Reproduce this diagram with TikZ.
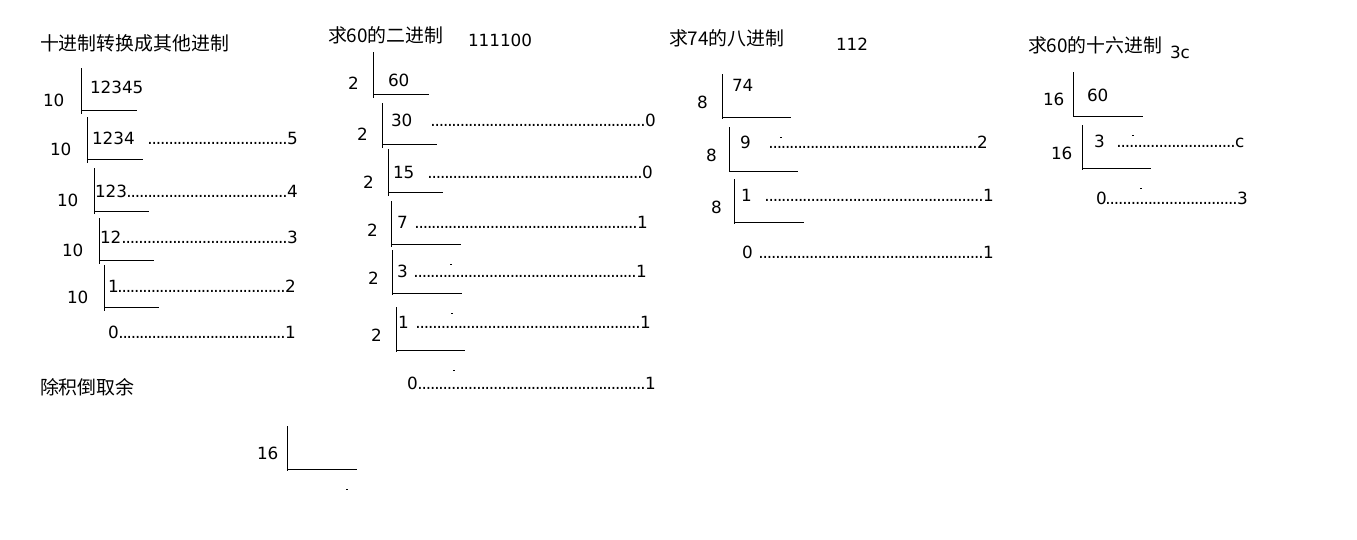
\documentclass[tikz,border=0pt]{standalone}
\usepackage{fontspec}
\setmainfont{DejaVu Sans}
\newfontfamily\cjk{Noto Sans CJK SC}
\newcommand\dotrow[1]{\hbox to #1pt{\xleaders\hbox to 4.15pt{\hss.\hss}\hfill}}
\begin{document}
\begin{tikzpicture}[x=1pt,y=-1pt,
  num/.style={anchor=base west,inner sep=0pt,outer sep=0pt,font=\fontsize{16.8}{20}\selectfont},
  ttl/.style={anchor=base west,inner sep=0pt,outer sep=0pt,font=\cjk\fontsize{18.9}{22}\selectfont},
  lead/.style={anchor=base west,inner sep=0pt,outer sep=0pt,font=\fontsize{16.8}{20}\selectfont},
  bar/.style={line width=1pt,black},
  speck/.style={fill=black}]
\useasboundingbox[fill=white] (0,0) rectangle (1357,539);

% ---------- panel 1 ----------
\node[ttl] (t1) at (40,50) {十进制转换成其他进制};
\node[num] (a1d) at (43,106) {10};
\node[num] (a1q) at (90,93) {12345};
\draw[bar] (81.7,68) -- (81.7,114) (81.7,110) -- (136.7,110);

\node[num] (a2d) at (50,155) {10};
\node[num] (a2q) at (92,144) {1234};
\node[lead] (a2l) at (148,144) {\dotrow{139}};
\node[num] (a2r) at (287,144) {5};
\draw[bar] (87.7,117) -- (87.7,163) (87.7,159) -- (143,159);

\node[num] (a3d) at (57,206) {10};
\node[num] (a3q) at (95,197) {123};
\node[lead] (a3l) at (127,197) {\dotrow{160}};
\node[num] (a3r) at (287,197) {4};
\draw[bar] (94,168) -- (94,214) (94,211) -- (149,211);

\node[num] (a4d) at (62,256) {10};
\node[num] (a4q) at (100,243) {12};
\node[lead] (a4l) at (122,243) {\dotrow{165}};
\node[num] (a4r) at (287,243) {3};
\draw[bar] (99,218) -- (99,264) (99,260) -- (154,260);

\node[num] (a5d) at (67,303) {10};
\node[num] (a5q) at (108,292) {1};
\node[lead] (a5l) at (118,292) {\dotrow{167}};
\node[num] (a5r) at (285,292) {2};
\draw[bar] (104,265) -- (104,311) (104,307) -- (159,307);

\node[num] (a6q) at (108,338) {0};
\node[lead] (a6l) at (119,338) {\dotrow{166}};
\node[num] (a6r) at (285,338) {1};

\node[ttl] (t1b) at (40,394) {除积倒取余};
\node[num] (e1d) at (257,459) {16};
\draw[bar] (287,426) -- (287,471) (287,469) -- (357,469);
\fill[speck] (346,488.5) rectangle ++(2,1);

% ---------- panel 2 ----------
\node[ttl] (t2) at (328,42) {求60的二进制};
\node[num] (t2r) at (468,46) {111100};

\node[num] (b1d) at (348,89) {2};
\node[num] (b1q) at (388,86) {60};
\draw[bar] (373,52) -- (373,98) (373,94) -- (429,94);

\node[num] (b2d) at (357,140) {2};
\node[num] (b2q) at (391,126) {30};
\node[lead] (b2l) at (431,126) {\dotrow{214}};
\node[num] (b2r) at (645,126) {0};
\draw[bar] (382,103) -- (382,148) (382,144) -- (437,144);

\node[num] (b3d) at (363,188) {2};
\node[num] (b3q) at (393,178) {15};
\node[lead] (b3l) at (428,178) {\dotrow{214}};
\node[num] (b3r) at (642,178) {0};
\draw[bar] (388,149) -- (388,196) (388,192) -- (443,192);

\node[num] (b4d) at (367,236) {2};
\node[num] (b4q) at (397,228) {7};
\node[lead] (b4l) at (415,228) {\dotrow{222}};
\node[num] (b4r) at (637,228) {1};
\draw[bar] (391,201) -- (391,247) (391,244) -- (461,244);

\node[num] (b5d) at (368,284) {2};
\node[num] (b5q) at (397,277) {3};
\node[lead] (b5l) at (414,277) {\dotrow{222}};
\node[num] (b5r) at (636,277) {1};
\draw[bar] (392,250) -- (392,295) (392,293) -- (462,293);
\fill[speck] (450,263.5) rectangle ++(2,1);

\node[num] (b6d) at (371,341) {2};
\node[num] (b6q) at (398,328) {1};
\node[lead] (b6l) at (416,328) {\dotrow{224}};
\node[num] (b6r) at (640,328) {1};
\draw[bar] (396,307) -- (396,352) (396,350) -- (465,350);
\fill[speck] (451,312.5) rectangle ++(2,1);

\node[num] (b7q) at (407,389) {0};
\node[lead] (b7l) at (418,389) {\dotrow{227}};
\node[num] (b7r) at (645,389) {1};
\fill[speck] (453,369.5) rectangle ++(2,1);

% ---------- panel 3 ----------
\node[ttl] (t3) at (669,45) {求74的八进制};
\node[num] (t3r) at (836,50) {112};

\node[num] (c1d) at (697,108) {8};
\node[num] (c1q) at (732,91) {74};
\draw[bar] (722,74) -- (722,119) (722,117) -- (791,117);

\node[num] (c2d) at (706,161) {8};
\node[num] (c2q) at (740,148) {9};
\node[lead] (c2l) at (769,148) {\dotrow{208}};
\node[num] (c2r) at (977,148) {2};
\draw[bar] (729,127) -- (729,172) (729,171) -- (798,171);
\fill[speck] (780,136.5) rectangle ++(2,1);

\node[num] (c3d) at (711,213) {8};
\node[num] (c3q) at (741,201) {1};
\node[lead] (c3l) at (765,201) {\dotrow{218}};
\node[num] (c3r) at (983,201) {1};
\draw[bar] (734,179) -- (734,224) (734,222) -- (804,222);

\node[num] (c4q) at (742,258) {0};
\node[lead] (c4l) at (759,258) {\dotrow{224}};
\node[num] (c4r) at (983,258) {1};

% ---------- panel 4 ----------
\node[ttl] (t4) at (1028,52) {求60的十六进制};
\node[num] (t4r) at (1170,58) {3c};

\node[num] (d1d) at (1043,105) {16};
\node[num] (d1q) at (1087,101) {60};
\draw[bar] (1073,72) -- (1073,117) (1073,116) -- (1143,116);

\node[num] (d2d) at (1051,159) {16};
\node[num] (d2q) at (1094,147) {3};
\node[lead] (d2l) at (1117,147) {\dotrow{118}};
\node[num] (d2r) at (1235,147) {c};
\draw[bar] (1082,125) -- (1082,170) (1082,168) -- (1151,168);
\fill[speck] (1132,134.5) rectangle ++(2,1);

\node[num] (d3q) at (1096,204) {0};
\node[lead] (d3l) at (1106,204) {\dotrow{131}};
\node[num] (d3r) at (1237,204) {3};
\fill[speck] (1140,187.5) rectangle ++(2,1);
\end{tikzpicture}
\end{document}
